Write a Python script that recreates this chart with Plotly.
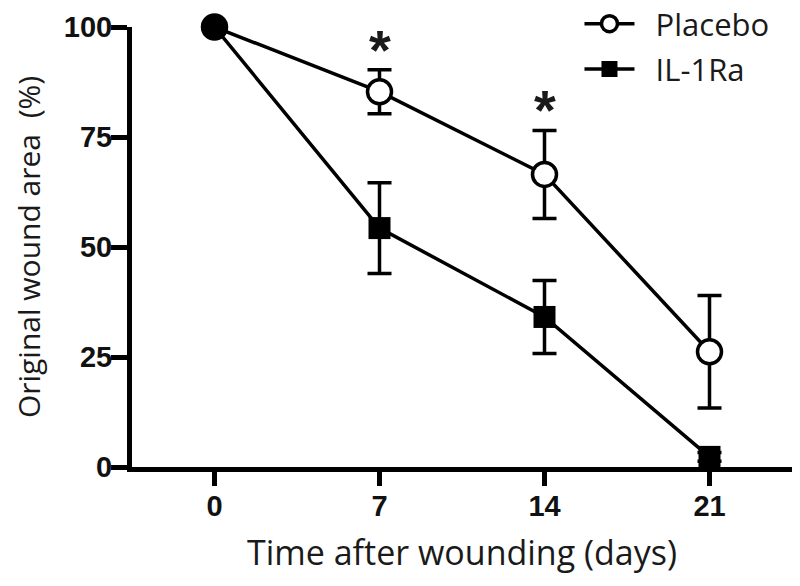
import plotly.graph_objects as go

days = [0, 7, 14, 21]
placebo = [100, 85.3, 66.5, 26.2]
placebo_err = [0, 5.0, 10.0, 12.8]
il1ra = [100, 54.3, 34.1, 2.3]
il1ra_err = [0, 10.3, 8.3, 1.0]
star_days = [7, 14]
star_y = [96.6, 83.0]
x_ticks = [0, 7, 14, 21]
y_ticks = [0, 25, 50, 75, 100]

fig = go.Figure()

fig.add_trace(go.Scatter(
    x=days, y=placebo, name="\u00a0\u00a0Placebo", mode="lines+markers",
    line=dict(color="black", width=3.5),
    marker=dict(symbol="circle", size=24, color="white", opacity=1,
                line=dict(color="black", width=3.5)),
    error_y=dict(type="data", array=placebo_err, color="black",
                 thickness=3.5, width=12),
    cliponaxis=False, legendgroup="a",
))
fig.add_trace(go.Scatter(
    x=days, y=il1ra, name="\u00a0\u00a0IL-1Ra", mode="lines+markers",
    line=dict(color="black", width=3.5),
    marker=dict(symbol="square", size=[16, 22, 22, 22], color="black", opacity=1,
                line=dict(color="black", width=0)),
    error_y=dict(type="data", array=il1ra_err, color="black",
                 thickness=3.5, width=12),
    cliponaxis=False, legendgroup="b",
))
# day-0 shared point (both groups at 100%)
fig.add_trace(go.Scatter(
    x=[days[0]], y=[placebo[0]], mode="markers", showlegend=False,
    marker=dict(symbol="circle", size=26, color="black", opacity=1,
                line=dict(color="black", width=0)),
    cliponaxis=False, hoverinfo="skip",
))

for d, yv in zip(star_days, star_y):
    fig.add_annotation(x=d, y=yv, text="<b>*</b>", showarrow=False,
                       font=dict(family="Liberation Sans", size=56, color="#1a1a1a"),
                       yanchor="middle", yshift=-8)

fig.update_layout(
    width=800, height=586,
    margin=dict(l=124, r=16, t=19, b=127, autoexpand=False),
    plot_bgcolor="white", paper_bgcolor="white",
    showlegend=True,
    legend=dict(x=0.678, y=1.068, xanchor="left", yanchor="top",
                font=dict(family="Open Sans", size=31, color="#1a1a1a"),
                itemwidth=50, traceorder="grouped", tracegroupgap=2,
                bgcolor="rgba(0,0,0,0)"),
    font=dict(family="Open Sans", color="#1a1a1a"),
)
fig.update_xaxes(
    range=[-3.5, 24.5], tickvals=x_ticks, ticktext=[str(v) for v in x_ticks],
    showline=True, linecolor="black", linewidth=5, showgrid=False, zeroline=False,
    ticks="outside", ticklen=14, tickwidth=5, tickcolor="black",
    ticklabelstandoff=-5,
    tickfont=dict(family="Liberation Sans", size=29, color="#111", weight="bold"),
    title=dict(text="Time after wounding (days)", standoff=22,
               font=dict(family="Open Sans", size=34, color="#1a1a1a")),
    automargin=False,
)
fig.update_yaxes(
    range=[0, 100], tickvals=y_ticks, ticktext=[str(v) for v in y_ticks],
    showline=True, linecolor="black", linewidth=5, showgrid=False, zeroline=False,
    ticks="outside", ticklen=16, tickwidth=5, tickcolor="black",
    ticklabelstandoff=-7,
    tickfont=dict(family="Liberation Sans", size=29, color="#111", weight="bold"),
    title=dict(text="Original wound area\u00a0 (%)", standoff=19,
               font=dict(family="Open Sans", size=30, color="#1a1a1a")),
    automargin=False,
)

fig.write_html("out.html")
